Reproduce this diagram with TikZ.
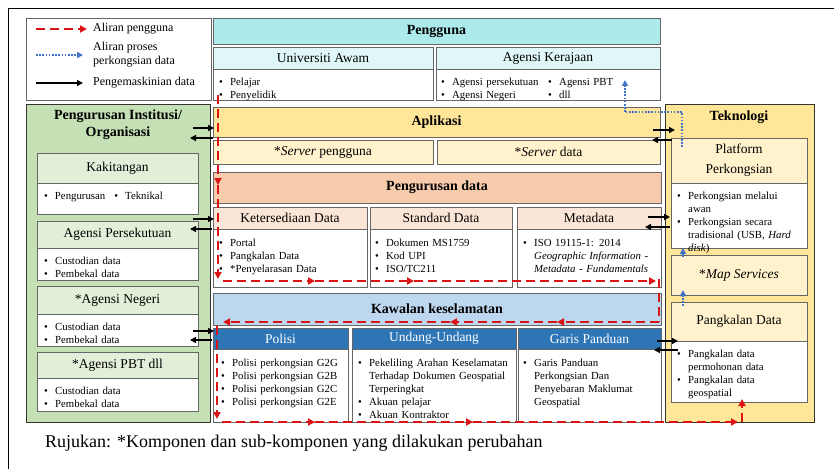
\documentclass[tikz,border=0pt]{standalone}
\usepackage{fontspec}
\setmainfont{Liberation Serif}
\usetikzlibrary{arrows.meta}

\definecolor{pgcyan}{RGB}{172,234,236}
\definecolor{pglight}{RGB}{224,247,248}
\definecolor{grpanel}{RGB}{197,224,180}
\definecolor{grlight}{RGB}{226,240,217}
\definecolor{aplyellow}{RGB}{255,230,153}
\definecolor{aplight}{RGB}{255,242,204}
\definecolor{pdorange}{RGB}{248,203,173}
\definecolor{pdlight}{RGB}{251,229,214}
\definecolor{kwblue}{RGB}{189,215,238}
\definecolor{polblue}{RGB}{46,117,182}
\definecolor{flowred}{RGB}{218,20,20}
\definecolor{shareblue}{RGB}{68,114,196}

\newcommand{\itm}{\par\noindent\makebox[11pt][l]{\textbullet}}
\newcommand{\cont}{\newline\hspace*{11pt}}

\begin{document}
\begin{tikzpicture}[x=1pt, y=-1pt,
				   cell/.style={draw=black!60, line width=0.7pt, inner sep=0pt, outer sep=0pt, anchor=north west},
				   panel/.style={cell, draw=black!80, line width=0.9pt},
				   ttl/.style={font=\fontsize{14}{17}\selectfont\bfseries, align=center},
				   hdr/.style={font=\fontsize{13.5}{20}\selectfont, align=center},
				   blist/.style={anchor=north west, inner sep=0pt, text width=#1, align=left, font=\fontsize{10.8}{13}\selectfont},
				   legtxt/.style={anchor=west, inner sep=0pt, align=left, font=\fontsize{12}{14}\selectfont},
				   userflow/.style={draw=flowred, line width=1.8pt, dash pattern=on 9pt off 5pt, -{Triangle[length=7pt,width=7pt]}},
				   plainflow/.style={draw=flowred, line width=1.8pt, dash pattern=on 9pt off 5pt},
				   shareflow/.style={draw=shareblue, line width=1.6pt, dash pattern=on 1.6pt off 1.6pt, -{Triangle[length=6pt,width=6pt]}},
				   plainshare/.style={draw=shareblue, line width=1.6pt, dash pattern=on 1.6pt off 1.6pt},
				   updflow/.style={draw=black, line width=1.6pt, -{Triangle[length=6pt,width=6pt]}}]
\useasboundingbox (0,0) rectangle (834,468);
\fill[white] (0,0) rectangle (834,468);
\draw[line width=1pt] (8.5,8.5) rectangle (900,500);

% legend
\node[cell, fill=white, minimum width=185, minimum height=82] (legend) at (26,18) {};
\node[legtxt] (lgusr) at (93,29) {Aliran pengguna};
\node[legtxt] (lgshare) at (93,55) {Aliran proses\\perkongsian data};
\node[legtxt] (lgupd) at (93,83) {Pengemaskinian data};
\draw[userflow] ([xshift=-57pt]lgusr.west) -- ([xshift=-6pt]lgusr.west);
\draw[shareflow] ([xshift=-57pt]lgshare.west) -- ([xshift=-10pt]lgshare.west);
\draw[updflow] ([xshift=-57pt]lgupd.west) -- ([xshift=-10pt]lgupd.west);

% pengguna
\node[cell, fill=pgcyan, minimum width=447, minimum height=26, ttl] (pengguna) at (213,18) {Pengguna};
\node[cell, fill=pglight, minimum width=220, minimum height=22, hdr] (uniawam) at (213,47) {Universiti Awam};
\node[cell, fill=white, minimum width=220, minimum height=31] (uniawamb) at (213,69) {};
\node[blist=150] (uniawaml) at (219,72) {\itm Pelajar \itm Penyelidik};
\node[cell, fill=pglight, minimum width=224, minimum height=22, hdr] (agkerajaan) at (436,47) {Agensi Kerajaan};
\node[cell, fill=white, minimum width=224, minimum height=31] (agkerajaanb) at (436,69) {};
\node[blist=105] (agkerajaanl1) at (441,72) {\itm Agensi persekutuan \itm Agensi Negeri};
\node[blist=90] (agkerajaanl2) at (548,72) {\itm Agensi PBT \itm dll};

% pengurusan institusi
\node[panel, fill=grpanel, minimum width=184, minimum height=318] (institusi) at (26,104) {};
\node[ttl, inner sep=0pt] (institusit) at (118,125) {Pengurusan Institusi/\\Organisasi};
\node[cell, fill=grlight, minimum width=161, minimum height=30, hdr] (kakitangan) at (37,153) {Kakitangan};
\node[cell, fill=white, minimum width=161, minimum height=31] (kakitanganb) at (37,183) {};
\node[blist=150] (kakitanganl) at (44,192) {\textbullet\hspace{7pt}Pengurusan\hspace{9pt}\textbullet\hspace{7pt}Teknikal};
\node[cell, fill=grlight, minimum width=161, minimum height=27, hdr] (agpers) at (37,221) {Agensi Persekutuan};
\node[cell, fill=white, minimum width=161, minimum height=32] (agpersb) at (37,248) {};
\node[blist=150] (agpersl) at (44,251) {\itm Custodian data \itm Pembekal data};
\node[cell, fill=grlight, minimum width=161, minimum height=28, hdr] (agneg) at (37,286) {*Agensi Negeri};
\node[cell, fill=white, minimum width=161, minimum height=32] (agnegb) at (37,314) {};
\node[blist=150] (agnegl) at (44,317) {\itm Custodian data \itm Pembekal data};
\node[cell, fill=grlight, minimum width=161, minimum height=26, hdr] (agpbt) at (37,352) {*Agensi PBT dll};
\node[cell, fill=white, minimum width=161, minimum height=33] (agpbtb) at (37,378) {};
\node[blist=150] (agpbtl) at (44,381) {\itm Custodian data \itm Pembekal data};

% aplikasi
\node[cell, fill=aplyellow, minimum width=447, minimum height=30, ttl] (aplikasi) at (213,107) {Aplikasi};
\node[cell, fill=aplight, minimum width=220, minimum height=24, hdr] (svpengguna) at (213,140) {*\textit{Server} pengguna};
\node[cell, fill=aplight, minimum width=223, minimum height=24, hdr] (svdata) at (437,140) {*\textit{Server} data};

% pengurusan data
\node[cell, fill=pdorange, minimum width=448, minimum height=31, ttl] (pdata) at (213,172) {Pengurusan data};
\node[cell, fill=pdlight, minimum width=154, minimum height=22, hdr] (ketsd) at (213,207) {Ketersediaan Data};
\node[cell, fill=white, minimum width=154, minimum height=58] (ketsdb) at (213,229) {};
\node[blist=145] (ketsdl) at (219,233) {\itm Portal \itm Pangkalan Data \itm *Penyelarasan Data};
\node[cell, fill=pdlight, minimum width=142, minimum height=22, hdr] (stdata) at (370,207) {Standard Data};
\node[cell, fill=white, minimum width=142, minimum height=58] (stdatab) at (370,229) {};
\node[blist=135] (stdatal) at (375,233) {\itm Dokumen MS1759 \itm Kod UPI \itm ISO/TC211};
\node[cell, fill=pdlight, minimum width=144, minimum height=22, hdr] (metadata) at (517,207) {Metadata};
\node[cell, fill=white, minimum width=144, minimum height=58] (metadatab) at (517,229) {};
\node[blist=140] (metadatal) at (523,233) {\itm ISO 19115-1: 2014\cont\textit{Geographic Information -}\cont\textit{Metadata - Fundamentals}};

% kawalan keselamatan
\node[cell, fill=kwblue, minimum width=448, minimum height=32, ttl] (kawalan) at (213,293) {Kawalan keselamatan};
\node[cell, fill=polblue, text=white, minimum width=135, minimum height=21, hdr] (polisi) at (213,328) {Polisi};
\node[cell, fill=white, minimum width=135, minimum height=73] (polisib) at (213,349) {};
\node[blist=130] (polisil) at (221,353) {\itm Polisi perkongsian G2G \itm Polisi perkongsian G2B \itm Polisi perkongsian G2C \itm Polisi perkongsian G2E};
\node[cell, fill=polblue, text=white, minimum width=164, minimum height=21, hdr] (undang) at (352,328) {Undang-Undang};
\node[cell, fill=white, minimum width=164, minimum height=73] (undangb) at (352,349) {};
\node[blist=162] (undangl) at (358,353) {\itm Pekeliling Arahan Keselamatan\cont Terhadap Dokumen Geospatial\cont Terperingkat \itm Akuan pelajar \itm Akuan Kontraktor};
\node[cell, fill=polblue, text=white, minimum width=143, minimum height=21, hdr] (garis) at (518,328) {Garis Panduan};
\node[cell, fill=white, minimum width=143, minimum height=73] (garisb) at (518,349) {};
\node[blist=138] (garisl) at (523,353) {\itm Garis Panduan\cont Perkongsian Dan\cont Penyebaran Maklumat\cont Geospatial};

% teknologi
\node[panel, fill=aplyellow, minimum width=149, minimum height=318] (teknologi) at (665,104) {};
\node[ttl, inner sep=0pt] (teknologit) at (739,117) {Teknologi};
\node[cell, fill=aplight, minimum width=136, minimum height=45, hdr] (platform) at (671,138) {Platform\\Perkongsian};
\node[cell, fill=white, minimum width=136, minimum height=65] (platformb) at (671,183) {};
\node[blist=134] (platforml) at (677,186) {\itm Perkongsian melalui\cont awan \itm Perkongsian secara\cont tradisional (USB, \textit{Hard}\cont \textit{disk})};
\node[cell, fill=aplight, minimum width=136, minimum height=40, hdr] (mapsv) at (671,255) {*\textit{Map Services}};
\node[cell, fill=aplight, minimum width=136, minimum height=39, hdr] (pangkalan) at (671,302) {Pangkalan Data};
\node[cell, fill=white, minimum width=136, minimum height=61] (pangkalanb) at (671,341) {};
\node[blist=130] (pangkalanl) at (677,344) {\itm Pangkalan data\cont permohonan data \itm Pangkalan data\cont geospatial};

\node[anchor=base west, inner sep=0pt, font=\fontsize{18}{20}\selectfont] (rujukan) at (45,447) {Rujukan: *Komponen dan sub-komponen yang dilakukan perubahan};

% aliran pengguna
\coordinate (f0) at (218,95);
\coordinate (f1) at (218,185);
\coordinate (f2) at (218,279);
\coordinate (f3) at (223,281);
\coordinate (f4) at (315,281);
\coordinate (f5) at (414,281);
\coordinate (f6) at (656,281);
\coordinate (f7) at (659,279);
\coordinate (f8) at (659,322);
\coordinate (f9) at (557,322);
\coordinate (f10) at (450,322);
\coordinate (f11) at (223,322);
\coordinate (f12) at (217,326);
\coordinate (f13) at (217,419);
\coordinate (f14) at (222,422);
\coordinate (f15) at (315,422);
\coordinate (f16) at (473,422);
\coordinate (f17) at (738,422);
\coordinate (f18) at (742,422);
\coordinate (f19) at (742,399);
\draw[userflow] (f0) -- (f1);
\draw[userflow] (f1) -- (f2);
\draw[userflow] (f3) -- (f4);
\draw[userflow] (f4) -- (f5);
\draw[userflow] (f5) -- (f6);
\draw[plainflow] (f7) -- (f8);
\draw[userflow] (f8) -- (f9);
\draw[userflow] (f9) -- (f10);
\draw[userflow] (f10) -- (f11);
\draw[userflow] (f12) -- (f13);
\draw[userflow] (f14) -- (f15);
\draw[userflow] (f15) -- (f16);
\draw[userflow] (f16) -- (f17);
\draw[userflow] (f18) -- (f19);

% aliran perkongsian data
\coordinate (s0) at (682,147);
\coordinate (s1) at (682,112);
\coordinate (s2) at (625,112);
\coordinate (s3) at (625,80);
\draw[plainshare] (s0) -- (s1) -- (s2);
\draw[shareflow] (s2) -- (s3);
\draw[shareflow] ([xshift=12pt,yshift=-2pt]mapsv.north west) -- ([xshift=12pt,yshift=7pt]mapsv.north west);
\draw[shareflow] ([xshift=12pt,yshift=-4pt]pangkalan.north west) -- ([xshift=12pt,yshift=5pt]mapsv.south west);

% pengemaskinian data
\draw[updflow] ([xshift=-20pt,yshift=9pt]aplikasi.south west) -- ([xshift=1pt,yshift=9pt]aplikasi.south west);
\draw[updflow] ([yshift=-1pt]aplikasi.south west) -- ([xshift=-23pt,yshift=-1pt]aplikasi.south west);
\draw[updflow] ([xshift=-20pt,yshift=-12pt]ketsd.north west) -- ([xshift=1pt,yshift=-12pt]ketsd.north west);
\draw[updflow] ([xshift=-1pt,yshift=-22pt]ketsd.north west) -- ([xshift=-23pt,yshift=-22pt]ketsd.north west);
\draw[updflow] ([xshift=-20pt,yshift=-3pt]polisi.north west) -- ([xshift=1pt,yshift=-3pt]polisi.north west);
\draw[updflow] ([xshift=-1pt,yshift=-12pt]polisi.north west) -- ([xshift=-23pt,yshift=-12pt]polisi.north west);
\draw[updflow] ([xshift=-7pt,yshift=7pt]aplikasi.south east) -- ([xshift=15pt,yshift=7pt]aplikasi.south east);
\draw[updflow] ([xshift=12pt,yshift=-3pt]aplikasi.south east) -- ([xshift=-8pt,yshift=-3pt]aplikasi.south east);
\draw[updflow] ([xshift=-13pt,yshift=12pt]metadata.south east) -- ([xshift=9pt,yshift=12pt]metadata.south east);
\draw[updflow] ([xshift=9pt,yshift=2pt]metadata.south east) -- ([xshift=-16pt,yshift=2pt]metadata.south east);
\draw[updflow] ([xshift=-14pt]pangkalan.south west) -- ([xshift=7pt]pangkalan.south west);
\draw[updflow] ([xshift=7pt,yshift=-9pt]pangkalan.south west) -- ([xshift=-17pt,yshift=-9pt]pangkalan.south west);
\end{tikzpicture}
\end{document}
